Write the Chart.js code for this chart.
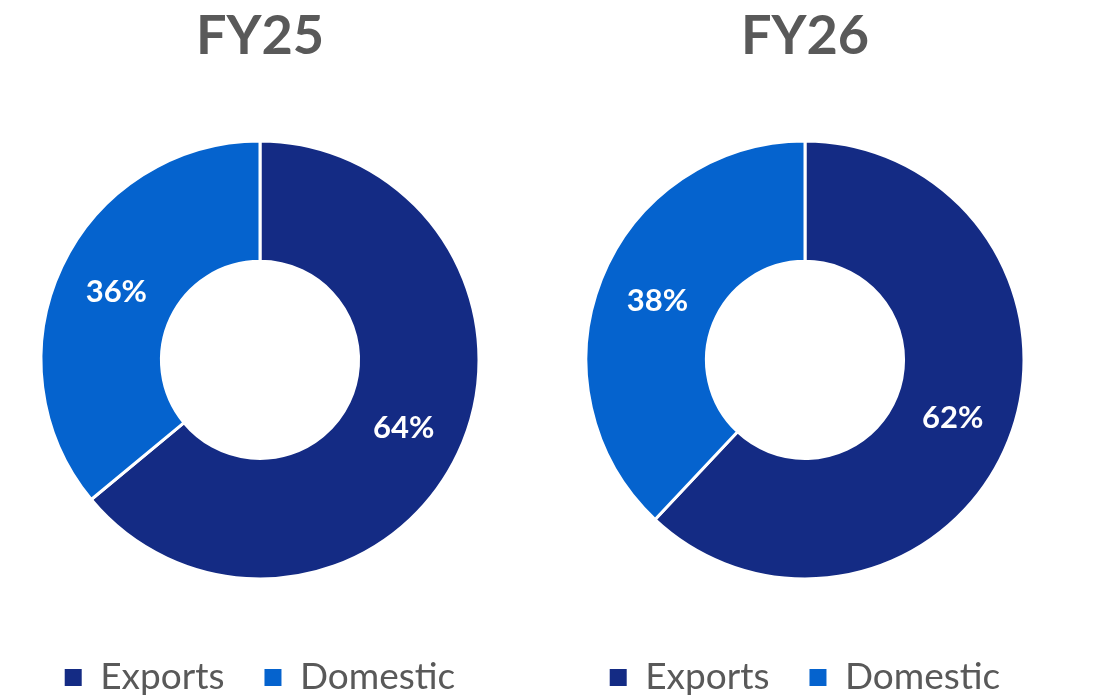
<!DOCTYPE html>
<html>
<head>
<meta charset="utf-8">
<script src="https://cdn.jsdelivr.net/npm/chart.js@4.4.1/dist/chart.umd.min.js"></script>
<style>
  html, body { margin: 0; padding: 0; background: #ffffff; overflow: hidden; width: 1106px; height: 699px; }
  .box { position: absolute; top: 0; width: 520px; height: 706px; }
  #b1 { left: 0px; }
  #b2 { left: 545px; }
</style>
</head>
<body>
<div class="box" id="b1"><canvas id="c1"></canvas></div>
<div class="box" id="b2"><canvas id="c2"></canvas></div>
<script>
const categories = ['Exports', 'Domestic'];
const chartTitles = ['FY25', 'FY26'];
const fy25Values = [64, 36];
const fy26Values = [62, 38];
const sliceColors = ['#142B84', '#0563CE'];

const FONT = 'Lato, "Open Sans", "DejaVu Sans", sans-serif';

const sliceLabels = {
  id: 'sliceLabels',
  afterDatasetsDraw(chart) {
    const ctx = chart.ctx;
    const meta = chart.getDatasetMeta(0);
    const data = chart.data.datasets[0].data;
    ctx.save();
    ctx.fillStyle = '#ffffff';
    ctx.font = 'bold 31px ' + FONT;
    ctx.textAlign = 'center';
    ctx.textBaseline = 'middle';
    meta.data.forEach((arc, i) => {
      const p = arc.tooltipPosition();
      ctx.fillText(data[i] + '%', p.x, p.y);
    });
    ctx.restore();
  }
};

function makeChart(id, title, values) {
  return new Chart(document.getElementById(id), {
    type: 'doughnut',
    data: {
      labels: categories,
      datasets: [{
        data: values,
        backgroundColor: sliceColors,
        borderColor: '#ffffff',
        borderWidth: 3,
        hoverOffset: 0
      }]
    },
    options: {
      responsive: true,
      maintainAspectRatio: false,
      animation: false,
      radius: 219,
      cutout: '45%',
      layout: { padding: 0 },
      plugins: {
        tooltip: { enabled: false },
        title: {
          display: true,
          text: title,
          color: '#595959',
          font: { family: FONT, size: 54, weight: 'bold', lineHeight: 1.2 },
          padding: { top: 4, bottom: 32 }
        },
        legend: {
          display: true,
          position: 'bottom',
          labels: {
            color: '#595959',
            font: { family: FONT, size: 37 },
            boxWidth: 17,
            boxHeight: 17,
            padding: 40,
            generateLabels(chart) {
              const items = Chart.overrides.doughnut.plugins.legend.labels.generateLabels(chart);
              return items.map(it => Object.assign(it, { lineWidth: 0, strokeStyle: it.fillStyle }));
            }
          }
        }
      }
    },
    plugins: [sliceLabels]
  });
}

makeChart('c1', chartTitles[0], fy25Values);
makeChart('c2', chartTitles[1], fy26Values);
</script>
</body>
</html>
